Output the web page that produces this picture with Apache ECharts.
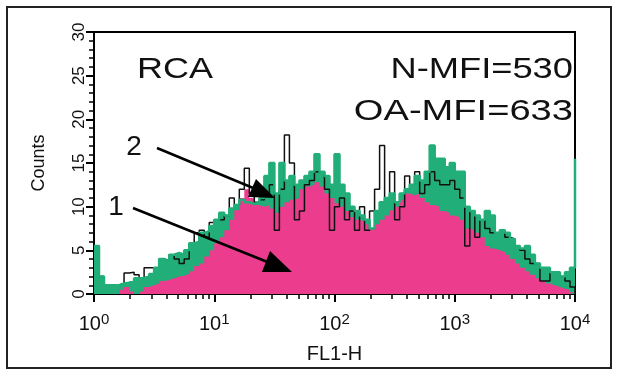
<!DOCTYPE html>
<html>
<head>
<meta charset="utf-8">
<script src="https://cdn.jsdelivr.net/npm/echarts@6/dist/echarts.min.js"></script>
<style>
  html, body { margin: 0; padding: 0; background: #fff; }
  #chart { width: 617px; height: 373px; }
</style>
</head>
<body>
<div id="chart"></div>
<script>
// histogram counts per channel (96 log channels over 4 decades, last entry = right edge)
const greenCounts = [5.5, 2, 1, 1, 1, 1.2, 1.3, 1.5, 1.8, 1.8,
  2, 2.3, 3, 4, 3.8, 4.5, 4.7, 4.5, 5, 5.8,
  6, 7, 7.2, 7.8, 8.5, 9.3, 9, 9.8, 10.2, 10.8,
  10.5, 10.3, 10.5, 11, 13.5, 15, 11.5, 15, 13, 13.5,
  12.5, 13, 13.5, 14, 16, 14, 13.5, 12.5, 16, 12.5,
  11.5, 10, 9.5, 9, 8.5, 7.5, 9.5, 10.5, 11, 11.5,
  10.5, 11.5, 12, 12.5, 13.5, 13, 14, 17, 15.5, 15.5,
  14.5, 15, 14, 14, 10, 9.5, 9, 8.5, 9.5, 9,
  7, 7.3, 7, 6.3, 5.5, 5.2, 5.5, 4.5, 3.5, 3,
  3, 2.5, 2.5, 2, 2.5, 3, 15.5]
const blackCounts = [5.5, 2, 1, 1, 1, 1.2, 2.4, 2.5, 2.2, 1.8,
  3, 3, 3, 4, 3.8, 4.5, 4, 3.5, 4, 5.8,
  7, 7.3, 6.5, 8.2, 8.5, 8.5, 9, 11, 10.2, 12,
  14.4, 11.5, 10.5, 10.8, 11.5, 12.5, 7.3, 12, 18.2, 15,
  8.5, 9.5, 12.5, 13, 14, 14, 12, 7.3, 10, 11,
  8.5, 9.5, 7.3, 10, 7.3, 9.5, 12, 17, 11, 14,
  8.5, 10, 13.5, 12.5, 14, 11.5, 12.5, 14, 13, 12.5,
  12.5, 13, 12, 11, 5.5, 9.5, 6.5, 8.5, 7.5, 7,
  7, 7.3, 6.5, 6.3, 5.5, 5, 4, 3.5, 3.5, 1.5,
  1.5, 2.5, 2.5, 2, 1.5, 0.8, 0]
const pinkCounts = [0, 0, 0, 0, 0, 0.5, 0.8, 0.3, 0, 0.3,
  0.8, 1, 1.2, 1.5, 1.6, 1.8, 2, 2.1, 2.3, 2.6,
  3.2, 3.5, 4.3, 5, 5.8, 6.5, 7.3, 8.5, 9.6, 11,
  12, 11, 10.2, 10, 10.2, 9.8, 9.3, 10, 10.5, 10.8,
  11, 12, 12.3, 12.5, 12.8, 12.3, 11.5, 11, 10.4, 10,
  9.5, 8.8, 8.5, 8.3, 8, 7.5, 8, 8.5, 9, 9.6,
  10, 10.8, 11.5, 11.3, 11.5, 11, 10.5, 10.2, 10, 9.5,
  9.3, 9, 8.8, 8.5, 7.5, 7.3, 7, 6.5, 5.5, 5.2,
  5, 4.8, 4.5, 4, 3.5, 3, 2.6, 2.2, 1.8, 1.5,
  1.2, 1, 0.8, 0.6, 0.5, 0.2, 0]
const channels = pinkCounts.map((_, i) => i)
const decadeExponents = ['0', '1', '2', '3', '4']

const FONT = 'Liberation Sans, Arial, sans-serif'
const INK = '#000'
const TEXT = '#111'
const GREEN = '#22AE78'
const PINK = '#EC3C8E'

// minor ticks at 2..9 of every decade (axis is in log10 units)
const minorTickValues = []
for (let d = 0; d < 4; d++) {
    for (let k = 2; k <= 9; k++) minorTickValues.push(d + Math.log10(k))
}

let myChart = echarts.init(document.getElementById('chart'))

let option = {
    animation: false,
    grid: {
        left: 94, top: 32, width: 481, height: 262,
        show: true, borderColor: INK, borderWidth: 2
    },
    xAxis: [
        { type: 'category', data: channels, boundaryGap: false, show: false },
        {
            type: 'value', min: 0, max: 4, interval: 1, position: 'bottom',
            axisLine: { show: true, lineStyle: { color: INK, width: 2 } },
            axisTick: { show: true, length: 8, lineStyle: { color: INK, width: 2 } },
            splitLine: { show: false },
            axisLabel: {
                margin: 18,
                formatter: v => '{b|10}{e|' + decadeExponents[v] + '}',
                rich: {
                    b: { fontSize: 20, fontFamily: FONT, color: TEXT, lineHeight: 24 },
                    e: { fontSize: 15, fontFamily: FONT, color: TEXT, verticalAlign: 'top', lineHeight: 14 }
                }
            },
            name: 'FL1-H', nameLocation: 'middle', nameGap: 50,
            nameTextStyle: { fontSize: 20, fontFamily: FONT, color: TEXT }
        },
        {
            type: 'value', min: 0, max: 4, position: 'bottom',
            axisLine: { show: false },
            axisLabel: { show: false },
            splitLine: { show: false },
            axisTick: { show: true, length: 5, customValues: minorTickValues, lineStyle: { color: INK, width: 1.5 } }
        }
    ],
    yAxis: {
        type: 'value', min: 0, max: 30, interval: 5,
        axisLine: { show: true, lineStyle: { color: INK, width: 2 } },
        axisTick: { show: true, length: 8, lineStyle: { color: INK, width: 2 } },
        minorTick: { show: true, splitNumber: 5, length: 5, lineStyle: { color: INK, width: 1.5 } },
        splitLine: { show: false },
        minorSplitLine: { show: false },
        axisLabel: { rotate: 90, margin: 6, fontSize: 17, color: TEXT, fontFamily: FONT },
        name: 'Counts', nameLocation: 'middle', nameGap: 46, nameRotate: 90,
        nameTextStyle: { fontSize: 18, color: TEXT, fontFamily: FONT }
    },
    series: [
        {
            name: 'green fill', type: 'line', step: 'end', data: greenCounts,
            showSymbol: false, lineStyle: { width: 0 },
            areaStyle: { color: GREEN, opacity: 1 }, z: 1
        },
        {
            name: 'pink fill', type: 'line', step: 'end', data: pinkCounts,
            showSymbol: false, lineStyle: { width: 0 },
            areaStyle: { color: PINK, opacity: 1 }, z: 2
        },
        {
            name: 'black', type: 'line', step: 'end', data: blackCounts,
            showSymbol: false, lineStyle: { width: 1.5, color: '#111' }, z: 3
        },
        {
            name: 'green edge', type: 'line', step: 'end', data: greenCounts,
            showSymbol: false, lineStyle: { width: 2.5, color: GREEN }, z: 4
        }
    ],
    graphic: [
        { type: 'rect', shape: { x: 7, y: 7, width: 604, height: 361 }, style: { fill: 'none', stroke: '#222', lineWidth: 2 } },
        { type: 'text', x: 137, y: 70, scaleX: 1.2, style: { text: 'RCA', fontSize: 30, fontFamily: FONT, fill: TEXT, textAlign: 'left', textVerticalAlign: 'middle' } },
        { type: 'text', x: 573, y: 70, scaleX: 1.21, style: { text: 'N-MFI=530', fontSize: 30, fontFamily: FONT, fill: TEXT, textAlign: 'right', textVerticalAlign: 'middle' } },
        { type: 'text', x: 573, y: 112, scaleX: 1.27, style: { text: 'OA-MFI=633', fontSize: 30, fontFamily: FONT, fill: TEXT, textAlign: 'right', textVerticalAlign: 'middle' } },
        // annotation arrows
        { type: 'text', x: 134, y: 147, style: { text: '2', fontSize: 28, fontFamily: FONT, fill: TEXT, textAlign: 'center', textVerticalAlign: 'middle' }, z: 10 },
        { type: 'line', shape: { x1: 157, y1: 148, x2: 258, y2: 190 }, style: { stroke: '#000', lineWidth: 2.5 }, z: 10 },
        { type: 'polygon', shape: { points: [[275, 198], [256, 179], [248, 197]] }, style: { fill: '#000' }, z: 10 },
        { type: 'text', x: 116, y: 207, style: { text: '1', fontSize: 28, fontFamily: FONT, fill: TEXT, textAlign: 'center', textVerticalAlign: 'middle' }, z: 10 },
        { type: 'line', shape: { x1: 133, y1: 208, x2: 270, y2: 263 }, style: { stroke: '#000', lineWidth: 2.5 }, z: 10 },
        { type: 'polygon', shape: { points: [[292, 272], [270, 251], [262, 272]] }, style: { fill: '#000' }, z: 10 }
    ]
}

myChart.setOption(option)
</script>
</body>
</html>
